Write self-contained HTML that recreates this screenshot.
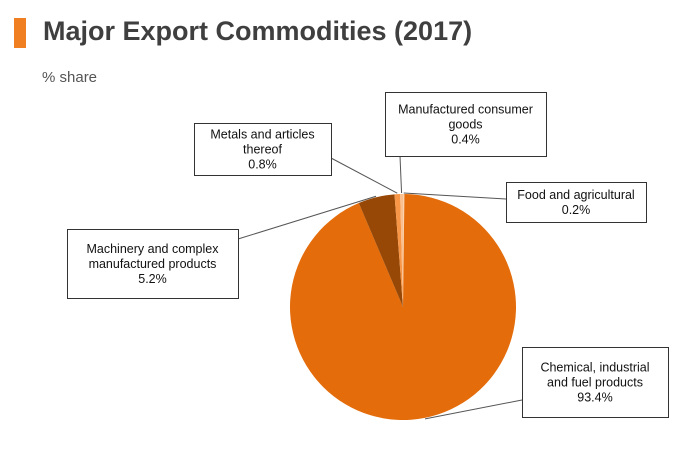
<!DOCTYPE html>
<html><head><meta charset="utf-8"><style>
body{margin:0;background:#fff;font-family:"Liberation Sans",Arial,sans-serif}
#wrap{position:relative;width:700px;height:450px;overflow:hidden}
</style></head><body>
<div id="wrap">
<div style="position:absolute;left:14px;top:18px;width:12px;height:30px;background:#f07f22"></div>
<div style="position:absolute;left:43px;top:16px;font-size:27px;font-weight:bold;color:#3f3f3f">Major Export Commodities (2017)</div>
<div style="position:absolute;left:42px;top:69px;font-size:15px;color:#555">% share</div>
<svg id="pie" width="700" height="450" style="position:absolute;left:0;top:0"></svg>
</div>
<script>
const categories=["Food and agricultural","Chemical, industrial and fuel products","Machinery and complex manufactured products","Metals and articles thereof","Manufactured consumer goods"];
const values=[0.2,93.4,5.2,0.8,0.4];
const valueLabels=["0.2%","93.4%","5.2%","0.8%","0.4%"];
const colors=["#fbd2ad","#e46c0a","#974806","#f79646","#fac090"];
const labelLines=[["Food and agricultural"],["Chemical, industrial","and fuel products"],["Machinery and complex","manufactured products"],["Metals and articles","thereof"],["Manufactured consumer","goods"]];
const boxes=[[506,182,140,40],[522,347,146,70],[67,229,171,69],[194,123,137,52],[385,92,161,64]];
const anchors=[[506,199],[522,400],[238,239],[331,158],[400,156]];
const cx=403,cy=307,r=113;
const svg=document.getElementById('pie');
const NS="http://www.w3.org/2000/svg";
const total=values.reduce((a,b)=>a+b,0);
function pt(a,rr){return [cx+rr*Math.sin(a),cy-rr*Math.cos(a)];}
let acc=0;
values.forEach((v,i)=>{
 const a0=acc/total*2*Math.PI;acc+=v;const a1=acc/total*2*Math.PI;
 const p0=pt(a0,r),p1=pt(a1,r);
 const path=document.createElementNS(NS,'path');
 path.setAttribute('d',`M${cx},${cy}L${p0[0]},${p0[1]}A${r},${r} 0 ${a1-a0>Math.PI?1:0} 1 ${p1[0]},${p1[1]}Z`);
 path.setAttribute('fill',colors[i]);
 
 
 svg.appendChild(path);
 const am=(a0+a1)/2;const e=pt(am,r+1);
 const ln=document.createElementNS(NS,'line');
 ln.setAttribute('x1',anchors[i][0]);ln.setAttribute('y1',anchors[i][1]);
 ln.setAttribute('x2',e[0]);ln.setAttribute('y2',e[1]);
 ln.setAttribute('stroke','#555');ln.setAttribute('stroke-width','1');
 
 
 svg.appendChild(ln);
 const b=boxes[i];
 const rect=document.createElementNS(NS,'rect');
 rect.setAttribute('x',b[0]+0.5);rect.setAttribute('y',b[1]+0.5);rect.setAttribute('width',b[2]);rect.setAttribute('height',b[3]);
 rect.setAttribute('fill','#fff');rect.setAttribute('stroke','#333');
 
 
 svg.appendChild(rect);
 const lines=labelLines[i].concat([valueLabels[i]]);
 const top=b[1]+b[3]/2-lines.length*15/2+12;
 lines.forEach((t,j)=>{
  const tx=document.createElementNS(NS,'text');
  tx.setAttribute('x',b[0]+b[2]/2);tx.setAttribute('y',top+j*15);
  tx.setAttribute('text-anchor','middle');tx.setAttribute('font-size','12.5');tx.setAttribute('fill','#111');
  tx.setAttribute('font-family','Liberation Sans, Arial, sans-serif');
  tx.textContent=t;
  
  
  svg.appendChild(tx);
 });
});
</script>
</body></html>
